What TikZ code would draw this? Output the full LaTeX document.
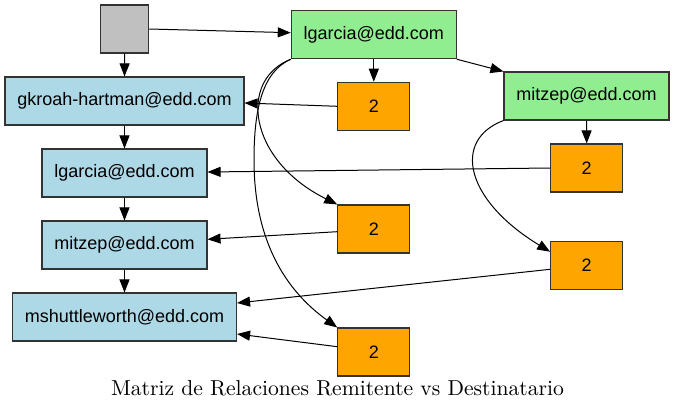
\documentclass[tikz,border=0pt]{standalone}
\usepackage{graphicx}
\usepackage{fontspec}
\newfontfamily\nodefont{Liberation Sans}
\usetikzlibrary{arrows.meta}
\definecolor{lbfill}{HTML}{ADD8E6}
\definecolor{lgfill}{HTML}{90EE90}
\definecolor{orfill}{HTML}{FFA500}
\definecolor{gyfill}{HTML}{C0C0C0}
\definecolor{bordc}{HTML}{333333}
\begin{document}
\begin{tikzpicture}[x=1pt,y=-1pt,
  box/.style={draw=bordc, line width=1.1pt, minimum height=48pt, inner sep=0pt,
    font=\nodefont\fontsize{18}{21}\selectfont},
  bluebox/.style={box, fill=lbfill},
  greenbox/.style={box, fill=lgfill, minimum width=165pt},
  countbox/.style={box, fill=orfill, minimum width=72pt},
  edge/.style={-{Triangle[length=13pt,width=10pt]}, line width=1pt, black}]
\useasboundingbox (0,0) rectangle (675,412);
\fill[white] (0,0) rectangle (675,412);
% nodes
\node[box, fill=gyfill, minimum width=48pt] (gray) at (124.7,29) {};
\node[greenbox] (G1) at (373.8,34.7) {lgarcia@edd.com};
\node[greenbox] (G2) at (586.5,96) {mitzep@edd.com};
\node[bluebox, minimum width=239pt] (B1) at (124.5,101) {gkroah-hartman@edd.com};
\node[bluebox, minimum width=165pt] (B2) at (124.5,173) {lgarcia@edd.com};
\node[bluebox, minimum width=165pt] (B3) at (124.5,245) {mitzep@edd.com};
\node[bluebox, minimum width=224pt] (B4) at (124.5,317) {mshuttleworth@edd.com};
\node[countbox] (O1) at (373.8,106.3) {2};
\node[countbox] (O2) at (586.7,168) {2};
\node[countbox] (O3) at (373.8,229) {2};
\node[countbox] (O4) at (586.7,265.3) {2};
\node[countbox] (O5) at (373.8,352) {2};
% caption
\node[anchor=base, inner sep=0pt] (cap) at (337.5,395.7)
  {\resizebox{453pt}{!}{Matriz de Relaciones Remitente vs Destinatario}};
% edges
\draw[edge] (gray.east) -- ([yshift=2pt]G1.west);
\draw[edge] (gray.south) -- (B1.north);
\draw[edge] (G1.south) -- (O1.north);
\draw[edge] (G1.south east) -- (G2.north west);
\draw[edge] (G1.south west) .. controls (238,80) and (248,160) .. (O3.north west);
\draw[edge] (G1.south west) .. controls (262,72) and (254,110) .. (254,160)
  .. controls (254,240) and (285,290) .. (O5.north west);
\draw[edge] (G2.south) -- (O2.north);
\draw[edge] (G2.south west) .. controls (452,140) and (465,200) .. ([yshift=-11pt]O4.north west);
\draw[edge] (O1.west) -- ([yshift=-2pt]B1.east);
\draw[edge] (O2.west) -- ([yshift=1pt]B2.east);
\draw[edge] ([yshift=-2.7pt]O3.west) -- ([yshift=5.7pt]B3.east);
\draw[edge] ([yshift=-4pt]O4.west) -- ([yshift=14pt]B4.east);
\draw[edge] ([yshift=5.3pt]O5.west) -- ([yshift=-17pt]B4.east);
\draw[edge] (B1.south) -- (B2.north);
\draw[edge] (B2.south) -- (B3.north);
\draw[edge] (B3.south) -- (B4.north);
\end{tikzpicture}
\end{document}
